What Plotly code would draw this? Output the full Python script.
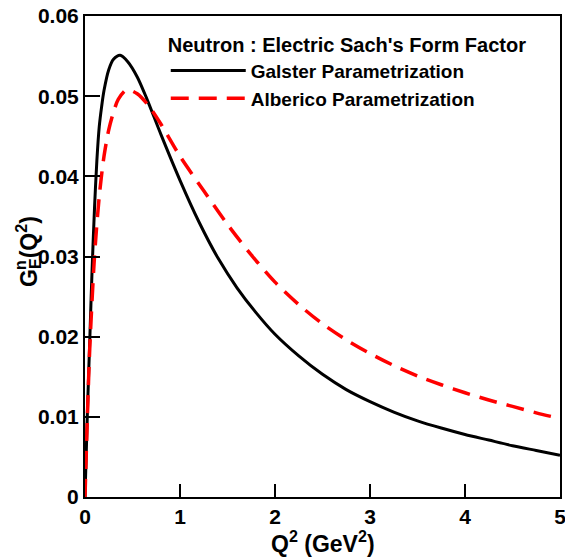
import plotly.graph_objects as go

# Values
galster_q2 = [0.0, 0.025, 0.05, 0.075, 0.1, 0.125, 0.15, 0.175, 0.2, 0.25, 0.3, 0.37, 0.45, 0.55, 0.65,
              0.8, 1.0, 1.2, 1.4, 1.6, 1.8, 2.0, 2.25, 2.5, 2.75, 3.0, 3.25, 3.5, 3.75, 4.0, 4.25, 4.5, 4.75, 5.0]
galster_ge = [0.0, 0.0105, 0.0195, 0.0285, 0.0360, 0.0420, 0.0462, 0.0487, 0.0507, 0.0533, 0.0546, 0.0551, 0.0543, 0.0524, 0.0497,
              0.0452, 0.0395, 0.0343, 0.0298, 0.0261, 0.0230, 0.0203, 0.0176, 0.0153, 0.0134, 0.0119, 0.0106, 0.0095, 0.0086, 0.0078, 0.0071, 0.0064, 0.0058, 0.0052]

alberico_q2 = [0.0, 0.025, 0.05, 0.1, 0.15, 0.2, 0.25, 0.3, 0.35, 0.44, 0.55, 0.67, 0.8,
               1.0, 1.25, 1.5, 1.75, 2.0, 2.25, 2.5, 2.75, 3.0, 3.25, 3.5, 3.75, 4.0, 4.25, 4.5, 4.75, 5.0]
alberico_ge = [0.0, 0.0100, 0.0185, 0.0300, 0.0375, 0.0425, 0.0458, 0.0480, 0.0496, 0.0508, 0.0503, 0.0488, 0.0465,
               0.0425, 0.0382, 0.0340, 0.0302, 0.0268, 0.0240, 0.0216, 0.0196, 0.0179, 0.0164, 0.0151, 0.0140, 0.0130, 0.0121, 0.0113, 0.0105, 0.0098]

x_major = [0, 1, 2, 3, 4, 5]
y_major = [0, 0.01, 0.02, 0.03, 0.04, 0.05, 0.06]
y_major_text = ["0", "0.01", "0.02", "0.03", "0.04", "0.05", "0.06"]
x_minor_step = 0.2
y_minor_step = 0.002

FONT = "Liberation Sans, Arial, Helvetica, sans-serif"
W, H = 565, 560
ML, MR, MT, MB = 85, 5, 16, 63
PW, PH = W - ML - MR, H - MT - MB


def minor_positions(majors, step):
    out = []
    for a, b in zip(majors[:-1], majors[1:]):
        n = int(round((b - a) / step))
        out += [round(a + step * k, 6) for k in range(1, n)]
    return out


x_minor = minor_positions(x_major, x_minor_step)
y_minor = minor_positions(y_major, y_minor_step)

fig = go.Figure()
fig.add_trace(go.Scatter(
    x=galster_q2, y=galster_ge, mode="lines", name="Galster Parametrization",
    line=dict(color="black", width=3, shape="spline", smoothing=0.8),
))
fig.add_trace(go.Scatter(
    x=alberico_q2, y=alberico_ge, mode="lines", name="Alberico Parametrization",
    line=dict(color="#ff0000", width=3.5, dash="18px,10px", shape="spline", smoothing=0.8),
))

tickfont = dict(family=FONT, size=21, color="black", weight="bold")
TW = 2
axis_common = dict(
    showgrid=False, zeroline=False, showline=True, linecolor="black", linewidth=2,
    mirror=True, ticks="inside", tickcolor="black", tickwidth=TW, automargin=False,
    ticklabeloverflow="allow", tickfont=tickfont,
)
twin_common = dict(
    showgrid=False, zeroline=False, showline=False, showticklabels=False,
    ticks="inside", tickcolor="black", tickwidth=TW, automargin=False, tickmode="array",
)

fig.update_layout(
    width=W, height=H,
    margin=dict(l=ML, r=MR, t=MT, b=MB),
    paper_bgcolor="white", plot_bgcolor="white",
    xaxis=dict(range=[0, 5], tickmode="array", tickvals=x_major, ticklen=13, **axis_common),
    yaxis=dict(range=[0, 0.06], tickmode="array", tickvals=y_major, ticktext=y_major_text,
               ticklen=15, **axis_common),
    # extra tick-only axes: top/right majors and minors on all four sides
    xaxis2=dict(overlaying="x", side="top", range=[0, 5], tickvals=x_major, ticklen=13, **twin_common),
    xaxis3=dict(overlaying="x", side="bottom", range=[0, 5], tickvals=x_minor, ticklen=7, **twin_common),
    xaxis4=dict(overlaying="x", side="top", range=[0, 5], tickvals=x_minor, ticklen=7, **twin_common),
    yaxis2=dict(overlaying="y", side="right", range=[0, 0.06], tickvals=y_major, ticklen=15, **twin_common),
    yaxis3=dict(overlaying="y", side="left", range=[0, 0.06], tickvals=y_minor, ticklen=8, **twin_common),
    yaxis4=dict(overlaying="y", side="right", range=[0, 0.06], tickvals=y_minor, ticklen=8, **twin_common),
    legend=dict(
        x=0.17, y=0.98, xanchor="left", yanchor="top",
        bgcolor="rgba(0,0,0,0)", borderwidth=0,
        title=dict(text="Neutron : Electric Sach's Form Factor",
                   font=dict(family=FONT, size=20, color="black", weight="bold"), side="top"),
        font=dict(family=FONT, size=19, color="black", weight="bold"),
        tracegroupgap=0, itemwidth=75,
    ),
    showlegend=True,
    annotations=[
        dict(text="Q<sup>2</sup> (GeV<sup>2</sup>)", xref="paper", yref="paper",
             x=0.5, y=-0.094, xanchor="center", yanchor="middle", showarrow=False,
             font=dict(family=FONT, size=23, color="black", weight="bold")),
        dict(text="G<sub>E</sub>(Q<sup>2</sup>)", xref="paper", yref="paper",
             x=(28 - ML) / PW, y=(497 - 252) / PH, xanchor="center", yanchor="middle",
             showarrow=False, textangle=-90,
             font=dict(family=FONT, size=23, color="black", weight="bold")),
        dict(text="n", xref="paper", yref="paper",
             x=(20 - ML) / PW, y=(497 - 265) / PH, xanchor="center", yanchor="middle",
             showarrow=False, textangle=-90,
             font=dict(family=FONT, size=16, color="black", weight="bold")),
    ],
)

fig.write_html(
    "out.html",
    config={"displayModeBar": False},
    post_script="document.body.style.margin='0';document.body.style.padding='0';document.body.style.overflow='hidden';",
)
